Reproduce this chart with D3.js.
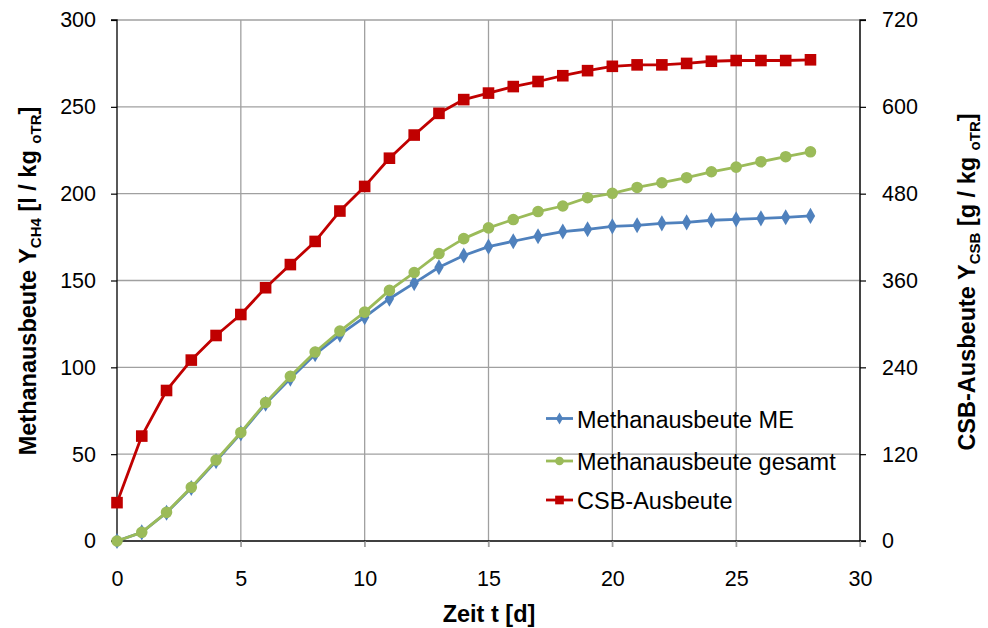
<!DOCTYPE html>
<html>
<head>
<meta charset="utf-8">
<script src="https://cdn.jsdelivr.net/npm/d3@7"></script>
<style>
  body { margin: 0; background: #fff; }
  svg { font-family: "Liberation Sans", Arial, sans-serif; }
</style>
</head>
<body>
<svg id="chart" width="988" height="628"></svg>
<script>
const days = d3.range(0, 29);
const methanME = [0, 5, 16.3, 30.5, 46, 62, 79, 93.5, 107.5, 118.8, 128.9, 139.5, 148.5, 157.6, 164.4, 169.5, 172.6, 175.5, 178.2, 179.5, 181.2, 181.8, 182.9, 183.5, 184.7, 185.2, 185.8, 186.4, 187.2];
const methanGesamt = [0, 5, 16.5, 30.9, 46.6, 62.5, 79.7, 94.8, 108.8, 120.9, 131.8, 144.3, 154.6, 165.5, 174.1, 180.3, 185.1, 189.7, 192.9, 197.7, 200.2, 203.6, 206.3, 209.2, 212.6, 215.3, 218.4, 221.3, 224.1];
const csb = [53, 145, 208, 250, 284, 313, 350, 382, 414, 456, 490, 529, 561, 591, 610, 619, 628, 635, 643, 650, 656, 658, 658, 660, 663, 664, 664, 664, 665];
const xTicks = [0, 5, 10, 15, 20, 25, 30];
const yLeftTicks = [0, 50, 100, 150, 200, 250, 300];
const yRightTicks = [0, 120, 240, 360, 480, 600, 720];
const seriesNames = ["Methanausbeute ME", "Methanausbeute gesamt", "CSB-Ausbeute"];

const svg = d3.select("#chart");
const L = 117, R = 860, T = 20, B = 541;
const x = d3.scaleLinear().domain([0, 30]).range([L, R]);
const yL = d3.scaleLinear().domain([0, 300]).range([B, T]);
const yR = d3.scaleLinear().domain([0, 720]).range([B, T]);

// grid
const grid = svg.append("g");
grid.selectAll(".vg").data(xTicks.slice(1)).enter().append("line")
  .attr("x1", d => x(d)).attr("x2", d => x(d)).attr("y1", T).attr("y2", B + 6)
  .attr("stroke", "#a0a0a0").attr("stroke-width", 1.3);
grid.selectAll(".hg").data(yLeftTicks.slice(1)).enter().append("line")
  .attr("x1", L).attr("x2", R).attr("y1", d => yL(d)).attr("y2", d => yL(d))
  .attr("stroke", "#a0a0a0").attr("stroke-width", 1.3);

// axes
const fs = "21.5px";
const axL = svg.append("g").attr("transform", `translate(${L},0)`)
  .call(d3.axisLeft(yL).tickValues(yLeftTicks).tickSize(6).tickPadding(15));
const axR = svg.append("g").attr("transform", `translate(${R},0)`)
  .call(d3.axisRight(yR).tickValues(yRightTicks).tickSize(6).tickPadding(16));
const axB = svg.append("g").attr("transform", `translate(0,${B})`)
  .call(d3.axisBottom(x).tickValues(xTicks).tickSize(6).tickPadding(23.5));
[axL, axR, axB].forEach(a => {
  a.attr("font-size", fs).attr("font-family", "Liberation Sans, Arial, sans-serif");
  a.select(".domain").attr("stroke", "#000").attr("stroke-width", 1.3);
  a.selectAll(".tick line").attr("stroke", "#000").attr("stroke-width", 1.2);
  a.selectAll("text").attr("font-size", fs).attr("fill", "#000");
});
axB.selectAll(".tick line").attr("stroke", "#a0a0a0");
axB.select(".domain").attr("d", `M${L},0H${R}`);
axL.select(".domain").attr("d", `M-6,${T}H0V${B}H-6`);
axR.select(".domain").attr("d", `M6,${T}H0V${B}H6`);

// lines
const colors = ["#4f81bd", "#9bbb59", "#c00000"];
const lineL = d3.line().x((d, i) => x(days[i])).y(d => yL(d));
const lineR = d3.line().x((d, i) => x(days[i])).y(d => yR(d));

function drawSeries(vals, gen, yScale, color, shape) {
  const g = svg.append("g");
  g.append("path").attr("d", gen(vals)).attr("fill", "none")
    .attr("stroke", color).attr("stroke-width", 2.8).attr("stroke-linejoin", "round");
  g.selectAll("path.m").data(vals).enter().append("path").attr("class", "m")
    .attr("transform", (d, i) => `translate(${x(days[i])},${yScale(d)})`)
    .attr("d", shape).attr("fill", color);
}
const diamond = d3.symbol().type(d3.symbolDiamond).size(75)();
const circle = d3.symbol().type(d3.symbolCircle).size(105)();
const square = "M-5.8,-5.8H5.8V5.8H-5.8Z";

drawSeries(methanME, lineL, yL, colors[0], diamond);
drawSeries(methanGesamt, lineL, yL, colors[1], circle);
drawSeries(csb, lineR, yR, colors[2], square);

// axis titles
svg.append("text").attr("x", 489).attr("y", 622).attr("text-anchor", "middle")
  .attr("font-size", "23.5px").attr("font-weight", "bold").text("Zeit t [d]");

function rotTitle(tx, ty, main, sub1, mid, sub2) {
  const t = svg.append("text").attr("transform", `translate(${tx},${ty}) rotate(-90)`)
    .attr("text-anchor", "middle").attr("font-size", "23.5px").attr("font-weight", "bold");
  t.append("tspan").text(main);
  t.append("tspan").attr("font-size", "15px").attr("dy", 5).text(sub1);
  t.append("tspan").attr("dy", -5).text(mid);
  t.append("tspan").attr("font-size", "15px").attr("dy", 5).text(sub2);
  t.append("tspan").attr("dy", -5).text("]");
}
rotTitle(36, 281, "Methanausbeute Y", "CH4", " [l / kg ", "oTR");
rotTitle(975, 282, "CSB-Ausbeute Y", "CSB", " [g / kg ", "oTR");

// legend
const shapes = [diamond, circle, square];
const legY = [418.5, 461, 500];
const leg = svg.append("g");
seriesNames.forEach((name, i) => {
  const g = leg.append("g");
  g.append("line").attr("x1", 546).attr("x2", 573).attr("y1", legY[i]).attr("y2", legY[i])
    .attr("stroke", colors[i]).attr("stroke-width", 2.8);
  g.append("path").attr("transform", `translate(559.5,${legY[i]}) scale(0.75)`)
    .attr("d", shapes[i]).attr("fill", colors[i]);
  g.append("text").attr("x", 577).attr("y", legY[i] + 9).attr("font-size", "23.5px").text(name);
});
</script>
</body>
</html>
